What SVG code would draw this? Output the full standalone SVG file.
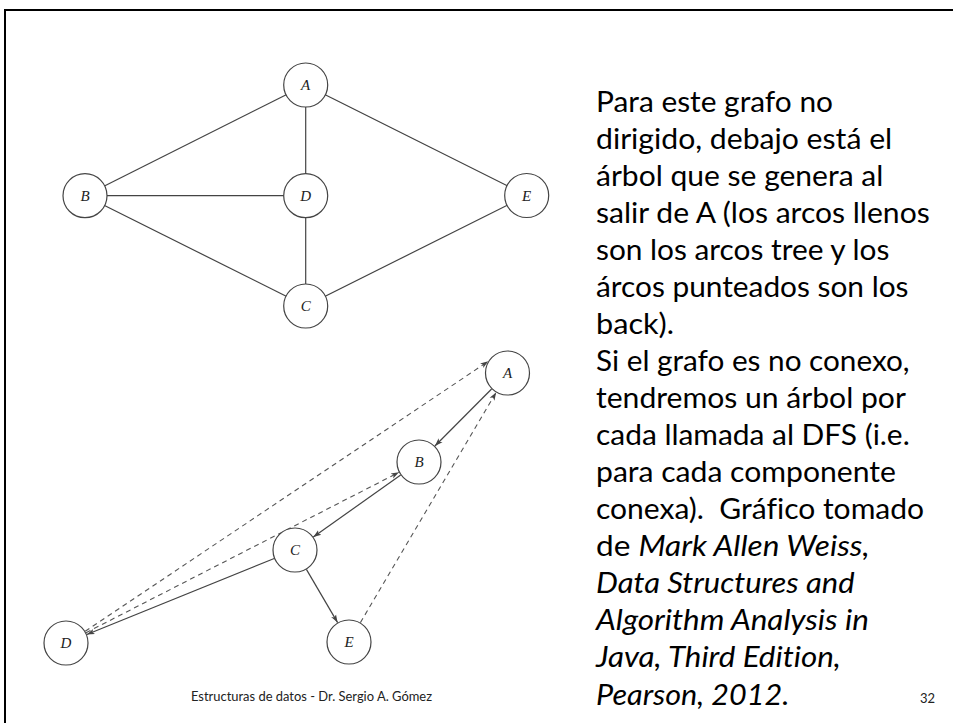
<svg xmlns="http://www.w3.org/2000/svg" width="953" height="723" viewBox="0 0 953 723">
<style>
.frame{fill:none;stroke:#000;stroke-width:2}
.edge{stroke:#444;stroke-width:1.2;fill:none}
.dash{stroke:#555;stroke-width:1.1;fill:none;stroke-dasharray:5 4}
.node{fill:#fff;stroke:#444;stroke-width:1.2}
.lbl{font-family:"Liberation Serif","Times New Roman",serif;font-style:italic;font-size:15px;fill:#222;text-anchor:middle}
.body{font-family:Lato,"Open Sans","Liberation Sans",sans-serif;font-size:29px;fill:#000;white-space:pre;font-variant-ligatures:none}
.it{font-style:italic}
.foot{font-family:Lato,"Liberation Sans",sans-serif;font-size:13px;fill:#222;font-variant-ligatures:none}
</style>
<defs>
<marker id="arr" viewBox="0 0 10 10" refX="10" refY="5" markerWidth="8" markerHeight="8" markerUnits="userSpaceOnUse" orient="auto">
<path d="M0,1.5 L10,5 L0,8.5 L2.5,5 z" fill="#444"/>
</marker>
</defs>
<rect class="frame" x="5" y="10" width="960" height="730"/>

<g id="connectors">
<line class="edge" x1="305.7" y1="85" x2="85" y2="195.7"/>
<line class="edge" x1="305.7" y1="85" x2="305.7" y2="195.7"/>
<line class="edge" x1="305.7" y1="85" x2="526.7" y2="195.5"/>
<line class="edge" x1="85" y1="195.7" x2="305.7" y2="195.7"/>
<line class="edge" x1="85" y1="195.7" x2="305.7" y2="306"/>
<line class="edge" x1="305.7" y1="195.7" x2="305.7" y2="306"/>
<line class="edge" x1="305.7" y1="306" x2="526.7" y2="195.5"/>

<line class="edge" x1="491.6" y1="389" x2="434.9" y2="446" marker-end="url(#arr)"/>
<line class="edge" x1="400.7" y1="475" x2="313.3" y2="537" marker-end="url(#arr)"/>
<line class="edge" x1="274.2" y1="558.5" x2="86.8" y2="634.5" marker-end="url(#arr)"/>
<line class="edge" x1="306.4" y1="569.4" x2="337.6" y2="622.6" marker-end="url(#arr)"/>
<line class="dash" x1="85.2" y1="631.3" x2="488.3" y2="361.3" marker-end="url(#arr)"/>
<line class="dash" x1="86" y1="632.7" x2="399" y2="472.3" marker-end="url(#arr)"/>
<line class="dash" x1="360.4" y1="622.6" x2="496.1" y2="392.4" marker-end="url(#arr)"/>
</g>

<g id="t-A"><circle class="node" cx="305.7" cy="85" r="22"/><text class="lbl" x="305.7" y="90">A</text></g>
<g id="t-B"><circle class="node" cx="85" cy="195.7" r="22"/><text class="lbl" x="85" y="200.7">B</text></g>
<g id="t-D"><circle class="node" cx="305.7" cy="195.7" r="22"/><text class="lbl" x="305.7" y="200.7">D</text></g>
<g id="t-E"><circle class="node" cx="526.7" cy="195.5" r="22"/><text class="lbl" x="526.7" y="200.5">E</text></g>
<g id="t-C"><circle class="node" cx="305.7" cy="306" r="22"/><text class="lbl" x="305.7" y="311">C</text></g>

<g id="b-A"><circle class="node" cx="507.5" cy="373" r="22"/><text class="lbl" x="507.5" y="378">A</text></g>
<g id="b-B"><circle class="node" cx="419" cy="462" r="22"/><text class="lbl" x="419" y="467">B</text></g>
<g id="b-C"><circle class="node" cx="295" cy="550" r="22"/><text class="lbl" x="295" y="555">C</text></g>
<g id="b-D"><circle class="node" cx="66" cy="643" r="22"/><text class="lbl" x="66" y="648">D</text></g>
<g id="b-E"><circle class="node" cx="349" cy="642" r="22"/><text class="lbl" x="349" y="647">E</text></g>

<g id="description">
<text class="body" x="596" y="112" textLength="237" lengthAdjust="spacingAndGlyphs">Para este grafo no</text>
<text class="body" x="596" y="149" textLength="296.2" lengthAdjust="spacingAndGlyphs">dirigido, debajo está el</text>
<text class="body" x="596" y="186" textLength="287.3" lengthAdjust="spacingAndGlyphs">árbol que se genera al</text>
<text class="body" x="596" y="223" textLength="333.7" lengthAdjust="spacingAndGlyphs">salir de A (los arcos llenos</text>
<text class="body" x="596" y="260" textLength="293.4" lengthAdjust="spacingAndGlyphs">son los arcos tree y los</text>
<text class="body" x="596" y="297" textLength="312.5" lengthAdjust="spacingAndGlyphs">árcos punteados son los</text>
<text class="body" x="596" y="334" textLength="78" lengthAdjust="spacingAndGlyphs">back).</text>
<text class="body" x="596" y="371" textLength="313.6" lengthAdjust="spacingAndGlyphs">Si el grafo es no conexo,</text>
<text class="body" x="596" y="408" textLength="309.9" lengthAdjust="spacingAndGlyphs">tendremos un árbol por</text>
<text class="body" x="596" y="445" textLength="313.7" lengthAdjust="spacingAndGlyphs">cada llamada al DFS (i.e.</text>
<text class="body" x="596" y="482" textLength="299.9" lengthAdjust="spacingAndGlyphs">para cada componente</text>
<text class="body" x="596" y="519" textLength="328.1" lengthAdjust="spacingAndGlyphs">conexa).  Gráfico tomado</text>
<text class="body" x="596" y="556" textLength="273.5" lengthAdjust="spacingAndGlyphs">de <tspan class="it">Mark Allen Weiss,</tspan></text>
<text class="body it" x="596" y="593" textLength="258.5" lengthAdjust="spacingAndGlyphs">Data Structures and</text>
<text class="body it" x="596" y="630" textLength="272.8" lengthAdjust="spacingAndGlyphs">Algorithm Analysis in</text>
<text class="body it" x="596" y="667" textLength="244.9" lengthAdjust="spacingAndGlyphs">Java, Third Edition,</text>
<text class="body it" x="596" y="705" textLength="193.3" lengthAdjust="spacingAndGlyphs">Pearson, 2012.</text>
</g>

<g id="footer">
<text class="foot" x="191" y="701" textLength="241" lengthAdjust="spacingAndGlyphs">Estructuras de datos - Dr. Sergio A. Gómez</text>
<text class="foot" x="920" y="703">32</text>
</g>
</svg>
